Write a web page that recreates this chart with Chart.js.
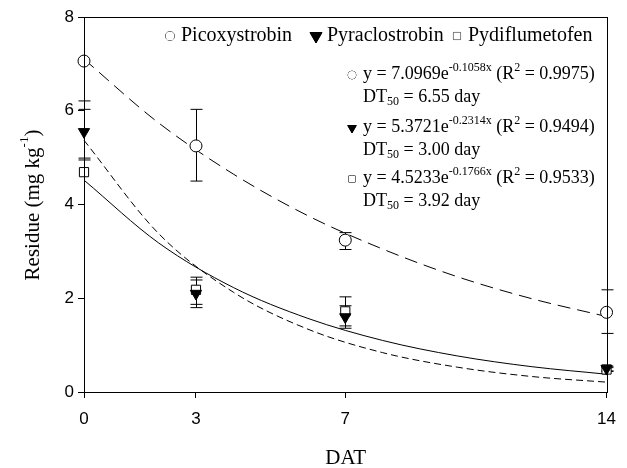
<!DOCTYPE html>
<html>
<head>
<meta charset="utf-8">
<script src="https://cdn.jsdelivr.net/npm/chart.js@4.4.0/dist/chart.umd.min.js"></script>
<style>
  html, body { margin: 0; padding: 0; background: #fff; }
</style>
</head>
<body>
<canvas id="residue" width="627" height="468"></canvas>
<script>
// Measured residues (mean and error bar ends)
const days = [0, 3, 7, 14];
const picoMean = [7.06, 5.25, 3.24, 1.70];
const picoLow = [7.06, 4.50, 3.04, 1.25];
const picoHigh = [7.06, 6.03, 3.40, 2.18];
const pyraMean = [5.55, 2.10, 1.60, 0.50];
const pyraLow = [4.95, 1.80, 1.36, 0.45];
const pyraHigh = [6.21, 2.39, 1.84, 0.55];
const pydiMean = [4.69, 2.18, 1.72, 0.48];
const pydiLow = [4.99, 1.87, 1.41, 0.44];
const pydiHigh = [6.03, 2.45, 2.03, 0.52];

// Fitted first-order decay curves
const fitX = [0, 2, 4, 6, 8, 10, 12, 14];
const picoFit = [7.10, 5.74, 4.65, 3.76, 3.05, 2.46, 1.99, 1.61];
const pyraFit = [5.37, 3.38, 2.13, 1.34, 0.84, 0.53, 0.33, 0.21];
const pydiFit = [4.52, 3.18, 2.23, 1.57, 1.10, 0.77, 0.54, 0.38];

const xTicks = [0, 3, 7, 14];
const yTicks = [0, 2, 4, 6, 8];

const names = ["Picoxystrobin", "Pyraclostrobin", "Pydiflumetofen"];
const equations = [
    { a: "7.0969", k: "-0.1058x", r2: "0.9975", dt: "6.55" },
    { a: "5.3721", k: "-0.2314x", r2: "0.9494", dt: "3.00" },
    { a: "4.5233", k: "-0.1766x", r2: "0.9533", dt: "3.92" }
];

const SERIF = "'Liberation Serif', 'Times New Roman', serif";
const SANS = "'Liberation Sans', Arial, sans-serif";

const pts = (xs, ys) => xs.map((x, i) => ({ x: x, y: ys[i] }));

const markers = [
    { pointStyle: "circle", rotation: 0, fill: "#fff" },
    { pointStyle: "triangle", rotation: 180, fill: "#000" },
    { pointStyle: "rect", rotation: 0, fill: "#fff" }
];

// draw text pieces with super/subscripts, left to right
function richText(ctx, x, y, parts) {
    parts.forEach(p => {
        const size = p.small ? 12 : 18;
        ctx.font = size + "px " + SERIF;
        ctx.fillText(p.t, x, y + (p.dy || 0));
        x += ctx.measureText(p.t).width;
    });
    return x;
}

const errorBars = {
    id: "errorBars",
    beforeDatasetsDraw(chart) {
        const ctx = chart.ctx, xs = chart.scales.x, ys = chart.scales.y;
        const sets = [[picoLow, picoHigh], [pyraLow, pyraHigh], [pydiLow, pydiHigh]];
        ctx.save();
        ctx.strokeStyle = "#000";
        ctx.lineWidth = 1;
        sets.forEach(([lo, hi]) => {
            days.forEach((d, i) => {
                if (lo[i] === hi[i]) return;
                const px = Math.round(xs.getPixelForValue(d)) + 0.5;
                const y1 = ys.getPixelForValue(lo[i]), y2 = ys.getPixelForValue(hi[i]);
                ctx.beginPath();
                ctx.moveTo(px, y1); ctx.lineTo(px, y2);
                ctx.moveTo(px - 6, y1); ctx.lineTo(px + 6, y1);
                ctx.moveTo(px - 6, y2); ctx.lineTo(px + 6, y2);
                ctx.stroke();
            });
        });
        ctx.restore();
    }
};

const annotations = {
    id: "annotations",
    afterDraw(chart) {
        const ctx = chart.ctx, area = chart.chartArea;
        ctx.save();
        // frame
        ctx.strokeStyle = "#000";
        ctx.lineWidth = 1;
        ctx.strokeRect(Math.round(area.left) + 0.5, Math.round(area.top) + 0.5,
            Math.round(area.right - area.left), Math.round(area.bottom - area.top));

        ctx.fillStyle = "#000";
        ctx.textBaseline = "middle";
        ctx.textAlign = "left";

        // legend row
        const legendX = [170, 316, 457];
        const legendSize = [4.5, 7, 5];
        names.forEach((n, i) => {
            const m = markers[i];
            ctx.fillStyle = m.fill;
            Chart.helpers.drawPoint(ctx, { pointStyle: m.pointStyle, radius: legendSize[i], rotation: m.rotation, borderWidth: 1 }, legendX[i], 36);
            ctx.fill();
            ctx.fillStyle = "#000";
            ctx.font = "20px " + SERIF;
            ctx.fillText(n, legendX[i] + 11, 36);
        });

        // equations
        const eqY = [74, 127, 178];
        const eqSize = [4, 5, 4.5];
        equations.forEach((e, i) => {
            const m = markers[i];
            ctx.fillStyle = m.fill;
            Chart.helpers.drawPoint(ctx, { pointStyle: m.pointStyle, radius: eqSize[i], rotation: m.rotation, borderWidth: 1 }, 352, eqY[i] + 1);
            ctx.fill();
            ctx.fillStyle = "#000";
            richText(ctx, 363, eqY[i], [
                { t: "y = " + e.a + "e" },
                { t: e.k, small: true, dy: -6 },
                { t: " (R" },
                { t: "2", small: true, dy: -6 },
                { t: " = " + e.r2 + ")" }
            ]);
            richText(ctx, 363, eqY[i] + 23, [
                { t: "DT" },
                { t: "50", small: true, dy: 5 },
                { t: " = " + e.dt + " day" }
            ]);
        });

        // axis titles
        ctx.font = "21px " + SERIF;
        ctx.textAlign = "center";
        ctx.fillText("DAT", (area.left + area.right) / 2 + 0.5, 458);

        ctx.translate(33, 205);
        ctx.rotate(-Math.PI / 2);
        ctx.textAlign = "left";
        const main = "Residue (mg kg";
        ctx.font = "21px " + SERIF;
        const w1 = ctx.measureText(main).width;
        ctx.font = "13px " + SERIF;
        const w2 = ctx.measureText("-1").width;
        ctx.font = "21px " + SERIF;
        const w3 = ctx.measureText(")").width;
        let tx = -(w1 + w2 + w3) / 2;
        ctx.fillText(main, tx, 0);
        tx += w1;
        ctx.font = "13px " + SERIF;
        ctx.fillText("-1", tx, -8);
        tx += w2;
        ctx.font = "21px " + SERIF;
        ctx.fillText(")", tx, 0);
        ctx.restore();
    }
};

const fitLine = (data, dash) => ({
    data: data,
    borderColor: "#000",
    borderWidth: 1,
    borderDash: dash,
    pointRadius: 0,
    cubicInterpolationMode: "monotone",
    clip: false,
    order: 10
});

const pointSet = (label, data, i, radius) => ({
    label: label,
    data: data,
    showLine: false,
    clip: false,
    pointStyle: markers[i].pointStyle,
    rotation: markers[i].rotation,
    pointRadius: radius,
    pointBackgroundColor: markers[i].fill,
    pointBorderColor: "#000",
    pointBorderWidth: 1,
    order: i === 1 ? 1 : (i === 0 ? 2 : 3)
});

const residueChart = new Chart(document.getElementById("residue"), {
    type: "line",
    data: {
        datasets: [
            fitLine(pts(fitX, picoFit), [13, 7]),
            fitLine(pts(fitX, pyraFit), [7, 4]),
            fitLine(pts(fitX, pydiFit), []),
            pointSet(names[0], pts(days, picoMean), 0, 6),
            pointSet(names[1], pts(days, pyraMean), 1, 6.5),
            pointSet(names[2], pts(days, pydiMean), 2, 6.5)
        ]
    },
    options: {
        responsive: false,
        animation: false,
        layout: { padding: { top: 17, right: 20, left: 0, bottom: 0 } },
        plugins: { legend: { display: false }, tooltip: { enabled: false } },
        scales: {
            x: {
                type: "linear",
                min: 0,
                max: 14,
                afterBuildTicks: s => { s.ticks = xTicks.map(v => ({ value: v })); },
                afterFit: s => { s.height = 76; },
                grid: { drawOnChartArea: false, tickLength: 6, color: "#000" },
                border: { color: "#000", width: 1 },
                ticks: { color: "#000", font: { family: SANS, size: 17 }, padding: 11, maxRotation: 0 }
            },
            y: {
                min: 0,
                max: 8,
                afterBuildTicks: s => { s.ticks = yTicks.map(v => ({ value: v })); },
                afterFit: s => { s.width = 84; },
                grid: { drawOnChartArea: false, tickLength: 6, color: "#000" },
                border: { color: "#000", width: 1 },
                ticks: { color: "#000", font: { family: SANS, size: 17 }, padding: 4 }
            }
        }
    },
    plugins: [errorBars, annotations]
});
</script>
</body>
</html>
